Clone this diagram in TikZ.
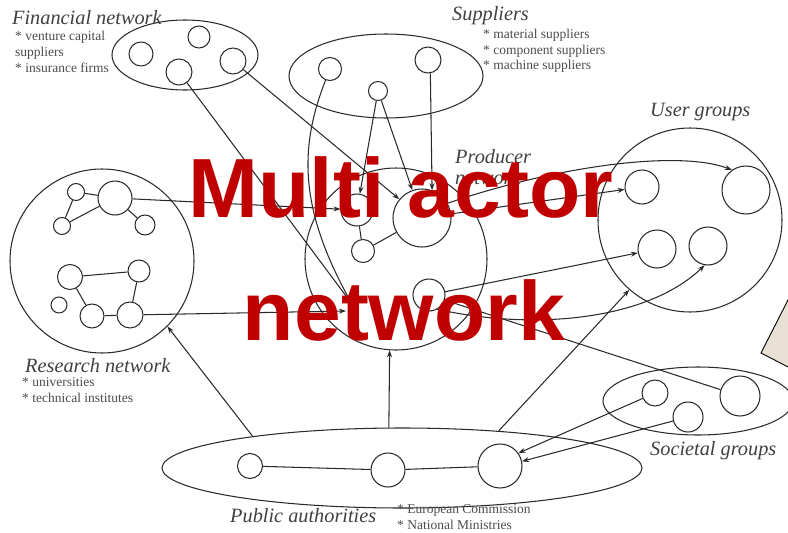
\documentclass[tikz,border=0pt]{standalone}
\usepackage{fontspec}
\setmainfont{Liberation Serif}
\newfontfamily\bannerfont{Liberation Sans}
\usetikzlibrary{shapes.geometric,arrows.meta}
\definecolor{ink}{HTML}{2A2A2A}
\definecolor{redtitle}{HTML}{C00000}
\definecolor{paper}{HTML}{E8E0D2}
\tikzset{
  actor/.style={circle, draw=ink, line width=1.05pt, inner sep=0pt, minimum size=#1},
  group/.style={ellipse, draw=ink, line width=1.05pt, inner sep=0pt},
  link/.style={draw=ink, line width=1.05pt},
  arr/.style={link, -{Stealth[length=7pt,width=5pt]}},
  head/.style={font=\fontsize{20.3}{21}\selectfont\itshape, text=black!75, inner sep=0pt, anchor=west},
  note/.style={font=\fontsize{13.5}{14}\selectfont, text=black!70, inner sep=0pt, anchor=west},
  banner/.style={font=\bannerfont\bfseries\fontsize{84}{84}\selectfont, text=redtitle, inner sep=0pt, anchor=base},
}
\begin{document}
\begin{tikzpicture}[x=1pt,y=-1pt]
\useasboundingbox (0,0) rectangle (788,533);

% ---------- groups ----------
\node[group, minimum width=146pt, minimum height=70pt] (fin) at (185,55) {};
\node[group, minimum width=194pt, minimum height=84pt] (sup) at (386,76) {};
\node[actor=182pt] (prod) at (396,259) {};
\node[actor=184pt] (user) at (690,220) {};
\node[actor=184pt] (res) at (102,261) {};
\node[group, minimum width=190pt, minimum height=68pt] (soc) at (698,401) {};
\node[group, minimum width=480pt, minimum height=80pt] (pub) at (402,468) {};

% ---------- actors ----------
% financial network
\node[actor=24pt] (f1) at (141,54) {};
\node[actor=22pt] (f2) at (199,37) {};
\node[actor=26pt] (f3) at (179,72) {};
\node[actor=26pt] (f4) at (233,61) {};
% suppliers
\node[actor=23pt] (s1) at (330,69) {};
\node[actor=19pt] (s2) at (378,91) {};
\node[actor=26pt] (s3) at (428,60) {};
% producer network
\node[actor=32pt] (pl) at (357,210) {};
\node[actor=23pt] (ps) at (363,251) {};
\node[actor=58pt] (pbig) at (422,218) {};
\node[actor=32pt] (pbot) at (429,295) {};
% user groups
\node[actor=34pt] (u1) at (642,187) {};
\node[actor=48pt] (u2) at (746,190) {};
\node[actor=38pt] (u3) at (657,249) {};
\node[actor=38pt] (u4) at (708,246) {};
% research network
\node[actor=17pt] (r1) at (76,192) {};
\node[actor=34pt] (r2) at (115,198) {};
\node[actor=17pt] (r3) at (62,226) {};
\node[actor=20pt] (r4) at (145,225) {};
\node[actor=25pt] (r5) at (70,277) {};
\node[actor=22pt] (r6) at (139,271) {};
\node[actor=16pt] (r7) at (59,305) {};
\node[actor=24pt] (r8) at (92,316) {};
\node[actor=26pt] (r9) at (130,315) {};
% societal groups
\node[actor=26pt] (g1) at (655,393) {};
\node[actor=30pt] (g2) at (688,417) {};
\node[actor=40pt] (g3) at (740,396) {};
% public authorities
\node[actor=25pt] (a1) at (250,466) {};
\node[actor=34pt] (a2) at (388,470) {};
\node[actor=44pt] (a3) at (500,466) {};

% free ends of links that meet inside the producer network
\coordinate (pjoin) at (352,304);
\coordinate (rjoin) at (346,311);

% ---------- links inside groups ----------
\draw[link] (r1) -- (r2);
\draw[link] (r1) -- (r3);
\draw[link] (r3) -- (r2);
\draw[link] (r2) -- (r4);
\draw[link] (r5) -- (r6);
\draw[link] (r5) -- (r8);
\draw[link] (r8) -- (r9);
\draw[link] (r9) -- (r6);
\draw[link] (pl) -- (ps);
\draw[link] (ps) -- (pbig);
\draw[link] (a1) -- (a2);
\draw[link] (a2) -- (a3);

% ---------- links between groups ----------
\draw[link] (f3) -- (pjoin);
\draw[arr] (f4) -- (pbig);
\draw[link] (s1) .. controls (298,150) and (300,212) .. (pjoin);
\draw[arr] (s2) -- (pl);
\draw[arr] (s2) -- (pbig);
\draw[arr] (s3.-80) -- (pbig.70);
\draw[arr] (r2) -- (pl);
\draw[arr] (r9) -- (rjoin);
\draw[arr] (pbig) -- (u1);
\draw[arr] (pbig.30) .. controls (560,165) and (680,150) .. (u2.125);
\draw[arr] (pbot) -- (u3);
\draw[arr] (pbot.-60) .. controls (540,332) and (650,318) .. (u4.-100);
\draw[link] (g3) -- (pbot);
\draw[arr] (g1) -- (a3.35);
\draw[arr] (g2) -- (a3.12);
\draw[arr] (pub.168) -- (res.-45);
\draw[arr] (pub.108) -- (prod.-94);
\draw[arr] (pub.21) -- (user.229);

% ---------- labels ----------
\node[head] (finT) at (12,18) {Financial network};
\node[note] (finA) at (15,37) {* venture capital};
\node[note] (finB) at (15,53) {suppliers};
\node[note] (finC) at (15,68) {* insurance firms};

\node[head] (supT) at (452,16) {Suppliers};
\node[note] (supA) at (483,35) {* material suppliers};
\node[note] (supB) at (483,51) {* component suppliers};
\node[note] (supC) at (483,66) {* machine suppliers};

\node[head] (prodT) at (455,157) {Producer};
\node[head] (prodU) at (455,178) {network};

\node[head] (userT) at (650,112) {User groups};

\node[head] (resT) at (25,366) {Research network};
\node[note] (resA) at (22,382) {* universities};
\node[note] (resB) at (22,398) {* technical institutes};

\node[head] (socT) at (650,451) {Societal groups};

\node[head] (pubT) at (230,516) {Public authorities};
\node[note] (pubA) at (397,510) {* European Commission};
\node[note] (pubB) at (397,525) {* National Ministries};

% ---------- sheet corner at the right edge ----------
\draw[fill=paper, draw=black, line width=0.9pt] (790,296) -- (761,353) -- (790,368);

% ---------- banner ----------
\node[banner] (title1) at (401,217) {Multi actor};
\node[banner] (title2) at (404,340) {network};
\end{tikzpicture}
\end{document}
